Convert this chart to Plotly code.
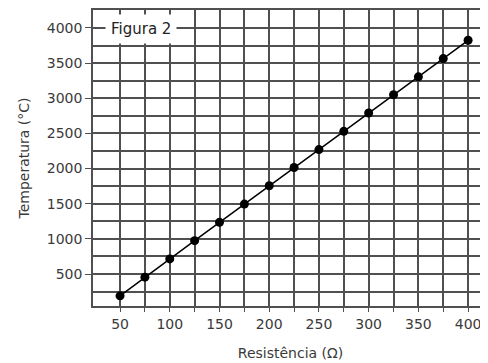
import plotly.graph_objects as go

resistencia = [50, 75, 100, 125, 150, 175, 200, 225, 250, 275, 300, 325, 350, 375, 400]
temperatura = [190, 455, 715, 975, 1235, 1495, 1755, 2015, 2270, 2530, 2790, 3050, 3305, 3565, 3825]
x_ticks = [50, 100, 150, 200, 250, 300, 350, 400]
x_minor = [75, 125, 175, 225, 275, 325, 375]
y_ticks = [500, 1000, 1500, 2000, 2500, 3000, 3500, 4000]
y_minor = [250, 750, 1250, 1750, 2250, 2750, 3250, 3750]

grid_color = "#505050"
font_family = "DejaVu Sans, sans-serif"

fig = go.Figure()
fig.add_trace(go.Scatter(
    x=resistencia, y=temperatura, mode="lines+markers",
    line=dict(color="black", width=1.5),
    marker=dict(color="black", size=9),
    showlegend=False,
))

# page body has an 8px default margin; figure sized to fill the rest of the 488x363 window
fig.update_layout(
    width=480, height=355,
    margin=dict(l=85, r=0, t=2, b=57),
    plot_bgcolor="white", paper_bgcolor="white",
    font=dict(family=font_family, size=14, color="#3a3a3a"),
    xaxis=dict(
        range=[22.8, 420], tickvals=x_ticks, automargin=False,
        showgrid=True, gridcolor=grid_color, gridwidth=1.6,
        minor=dict(tickvals=x_minor, showgrid=True, gridcolor=grid_color, gridwidth=1.6,
                   ticks="outside", ticklen=4, tickcolor=grid_color),
        showline=True, linecolor=grid_color, linewidth=1.6, mirror=True,
        ticks="outside", ticklen=4, tickcolor=grid_color,
        zeroline=False,
        title=dict(text="Resistência (Ω)", font=dict(size=14), standoff=18),
        tickfont=dict(size=14),
    ),
    yaxis=dict(
        range=[45, 4256], tickvals=y_ticks, automargin=False,
        showgrid=True, gridcolor=grid_color, gridwidth=1.6,
        minor=dict(tickvals=y_minor, showgrid=True, gridcolor=grid_color, gridwidth=1.6),
        showline=True, linecolor=grid_color, linewidth=1.6,
        ticks="outside", ticklen=6, tickcolor=grid_color,
        zeroline=False,
        title=dict(text="Temperatura (°C)", font=dict(size=14), standoff=14),
        tickfont=dict(size=14),
    ),
)

fig.add_annotation(
    xref="paper", yref="paper", x=0.03, y=0.985, xanchor="left", yanchor="top",
    text="Figura 2", showarrow=False, font=dict(size=15, color="#222"),
    bgcolor="white", borderpad=5,
)

fig.write_html("out.html")
